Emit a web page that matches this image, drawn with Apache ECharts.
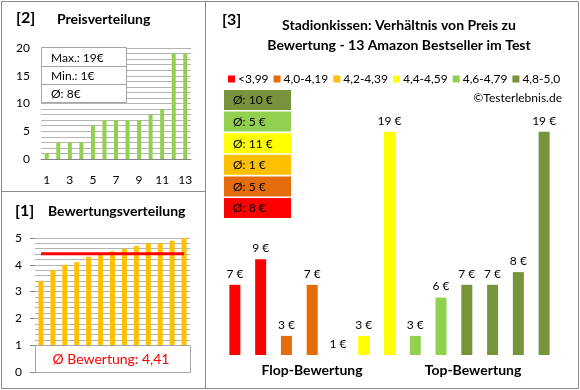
<!DOCTYPE html>
<html><head><meta charset="utf-8">
<script src="https://cdn.jsdelivr.net/npm/echarts@6/dist/echarts.min.js"></script>
<style>html,body{margin:0;padding:0;background:#fff}#c{width:580px;height:390px}</style>
</head><body><div id="c"></div>
<script>
// ---- data ----
const ranks = ['1','2','3','4','5','6','7','8','9','10','11','12','13'];
const sortedPrices = [1,3,3,3,6,7,7,7,7,8,9,19,19];
const priceTicks = [0,5,10,15,20];
const sortedRatings = [3.4,3.8,4.0,4.1,4.3,4.4,4.5,4.6,4.7,4.8,4.8,4.9,5.0];
const ratingTicks = [0,1,2,3,4,5];
const products = ['P1','P2','P3','P4','P5','P6','P7','P8','P9','P10','P11','P12','P13'];
const productPrices = [7,9,3,7,1,3,19,3,6,7,7,8,19];
const productRatings = [3.4,3.8,4.0,4.1,4.3,4.4,4.5,4.6,4.7,4.8,4.8,4.9,5.0];
const groupNames = ['<3,99','4,0-4,19','4,2-4,39','4,4-4,59','4,6-4,79','4,8-5,0'];
const groupLower = [0,4.0,4.2,4.4,4.6,4.8];
const groupColors = ['#FF0000','#E46C0A','#FFC000','#FFFF00','#92D050','#77933C'];

// ---- derived ----
const FONT = 'Lato, "Liberation Sans", sans-serif';
const groupOf = productRatings.map(r => { let g = 0; groupLower.forEach((l,i)=>{ if (r >= l - 1e-9) g = i; }); return g; });
const maxP = Math.max(...sortedPrices), minP = Math.min(...sortedPrices);
const avgP = Math.round(sortedPrices.reduce((a,b)=>a+b,0)/sortedPrices.length);
const avgR = sortedRatings.reduce((a,b)=>a+b,0)/sortedRatings.length;
const groupAvg = groupNames.map((n,g) => {
  const v = productPrices.filter((p,i)=>groupOf[i]===g);
  return Math.round(v.reduce((a,b)=>a+b,0)/v.length);
});

const GRID = '#b4b4b4', BORDER = '#8a8a8a';
const txt = (x,y,text,opt) => Object.assign({type:'text', x, y, z:100,
  style: Object.assign({text, font: '12px ' + FONT, fill:'#000', align:'left', verticalAlign:'middle'}, opt||{})});

const graphics = [
  {type:'rect', z:100, shape:{x:1.5,y:1.5,width:577,height:387}, style:{fill:'none',stroke:BORDER,lineWidth:1}},
  {type:'line', z:100, shape:{x1:205.5,y1:1,x2:205.5,y2:388}, style:{stroke:BORDER,lineWidth:1}},
  {type:'line', z:100, shape:{x1:1,y1:191.5,x2:205,y2:191.5}, style:{stroke:BORDER,lineWidth:1}},
  txt(16,18,'[2]',{font:'bold 16px '+FONT}),
  txt(57,19,'Preisverteilung',{font:'bold 14px '+FONT}),
  txt(15,211,'[1]',{font:'bold 16px '+FONT}),
  txt(48,211,'Bewertungsverteilung',{font:'bold 14px '+FONT}),
  txt(222,20,'[3]',{font:'bold 16px '+FONT}),
  txt(399,25,'Stadionkissen: Verhältnis von Preis zu',{font:'bold 14px '+FONT, align:'center'}),
  txt(399,45,'Bewertung - 13 Amazon Bestseller im Test',{font:'bold 14px '+FONT, align:'center'}),
  txt(562,98,'©Testerlebnis.de',{align:'right'}),
  txt(312,370,'Flop-Bewertung',{font:'bold 14px '+FONT, align:'center'}),
  txt(473,370,'Top-Bewertung',{font:'bold 14px '+FONT, align:'center'}),
  // stats box
  {type:'rect', z:100, shape:{x:41.5,y:47.5,width:85,height:55}, style:{fill:'#fff',stroke:'#a6a6a6',lineWidth:1}},
  {type:'line', z:100, shape:{x1:41.5,y1:66.5,x2:126.5,y2:66.5}, style:{stroke:'#a6a6a6',lineWidth:1}},
  {type:'line', z:100, shape:{x1:41.5,y1:84.5,x2:126.5,y2:84.5}, style:{stroke:'#a6a6a6',lineWidth:1}},
  txt(51,58,'Max.: ' + maxP + '€'),
  txt(51,76,'Min.: ' + minP + '€'),
  txt(51,94,'Ø: ' + avgP + '€'),
  // rating box
  {type:'rect', z:100, shape:{x:35.5,y:345.5,width:155,height:27}, style:{fill:'#fff',stroke:'#a6a6a6',lineWidth:1}},
  txt(111,359,'Ø Bewertung: ' + avgR.toFixed(2).replace('.',','),{font:'14px '+FONT, fill:'#FF0000', align:'center'})
];
// group average boxes (top: best group)
for (let k = 0; k < groupNames.length; k++) {
  const g = groupNames.length - 1 - k;
  const y = 90 + k*21.6;
  graphics.push({type:'rect', z:100, shape:{x:224,y:y,width:67,height:20}, style:{fill:groupColors[g]}});
  graphics.push(txt(233, y+10.5, 'Ø: ' + groupAvg[g] + ' €'));
}

const mainSeries = groupNames.map((name,g) => ({
  name, type:'bar', xAxisIndex:2, yAxisIndex:3, barWidth:11, barGap:'-100%',
  itemStyle:{color:groupColors[g]},
  label:{show:true, position:'top', distance:5, formatter:p=>p.value+' €', fontSize:12, fontFamily:FONT, color:'#000'},
  data: productPrices.map((p,i)=> groupOf[i]===g ? p : '-'),
  animation:false
}));

const chart = echarts.init(document.getElementById('c'), null, {renderer:'canvas'});
chart.setOption({
  animation:false,
  textStyle:{fontFamily:FONT},
  legend:{data:groupNames, left:223, top:68, icon:'rect', itemWidth:7, itemHeight:7, itemGap:5,
    textStyle:{fontSize:12, fontFamily:FONT, color:'#000', padding:[0,0,0,-2]}, selectedMode:false},
  grid:[
    {left:41, top:48, width:150, height:111},
    {left:35, top:238, width:155, height:134},
    {left:222, top:119, width:335, height:236}
  ],
  xAxis:[
    {type:'category', gridIndex:0, data:ranks, axisLine:{lineStyle:{color:'#868686'}}, axisTick:{show:false},
      axisLabel:{interval:1, margin:15, fontSize:12, color:'#000', fontFamily:FONT}},
    {type:'category', gridIndex:1, data:ranks, axisLine:{show:false}, axisTick:{show:false}, axisLabel:{show:false}},
    {type:'category', gridIndex:2, data:products, axisLine:{show:false}, axisTick:{show:false}, axisLabel:{show:false}}
  ],
  yAxis:[
    {type:'value', gridIndex:0, min:0, max:20, interval:1, axisLine:{show:false}, axisTick:{show:false},
      splitLine:{lineStyle:{color:GRID}},
      axisLabel:{margin:11, fontSize:12, color:'#000', fontFamily:FONT,
        formatter:v=> priceTicks.indexOf(v) >= 0 ? String(v) : ''}},
    {type:'value', gridIndex:1, min:0, max:5, interval:0.2, axisLine:{show:false}, axisTick:{show:false},
      axisLabel:{show:false}, splitLine:{lineStyle:{color:GRID}}},
    {type:'value', gridIndex:1, min:0, max:5, interval:1, position:'left', axisLine:{show:false},
      axisTick:{show:true, length:5, lineStyle:{color:'#868686'}}, splitLine:{show:false},
      axisLabel:{margin:13, fontSize:12, color:'#000', fontFamily:FONT,
        formatter:v=> ratingTicks.indexOf(Math.round(v)) >= 0 ? String(Math.round(v)) : ''}},
    {type:'value', gridIndex:2, min:1.5, max:20, startValue:1.5, show:false, splitLine:{show:false}}
  ],
  series:[
    {type:'bar', xAxisIndex:0, yAxisIndex:0, data:sortedPrices, barWidth:4, itemStyle:{color:'#92D050'}, z:3},
    {type:'bar', xAxisIndex:1, yAxisIndex:1, data:sortedRatings, barWidth:5, itemStyle:{color:'#FFC000'}, z:3},
    {type:'line', xAxisIndex:1, yAxisIndex:1, data:sortedRatings.map(()=>Math.round(avgR*100)/100),
      symbol:'none', lineStyle:{color:'#FF0000', width:3}, z:5}
  ].concat(mainSeries),
  graphic: graphics
});
</script></body></html>
